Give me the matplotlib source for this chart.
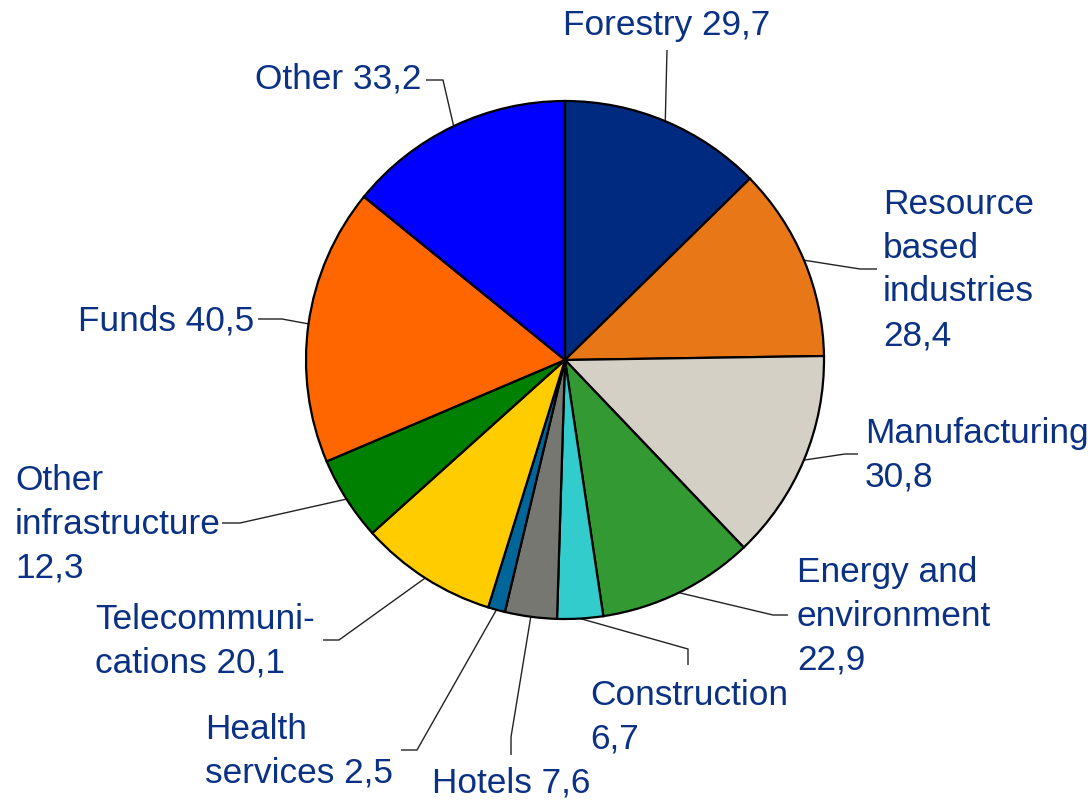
import matplotlib
matplotlib.use("Agg")
import matplotlib.pyplot as plt
import numpy as np

# ---- data ----
names = ["Forestry", "Resource\nbased\nindustries", "Manufacturing", "Energy and\nenvironment",
         "Construction", "Hotels", "Health\nservices", "Telecommuni-\ncations",
         "Other\ninfrastructure", "Funds", "Other"]
values = [29.7, 28.4, 30.8, 22.9, 6.7, 7.6, 2.5, 20.1, 12.3, 40.5, 33.2]
separators = [" ", "\n", "\n", "\n", "\n", " ", " ", " ", "\n", " ", " "]
colors = ["#002A7F", "#E87817", "#D4D0C6", "#339933", "#33CCCC", "#777772",
          "#006699", "#FFCC00", "#008000", "#FF6600", "#0000FF"]

labels = [n + s + f"{v:.1f}".replace(".", ",") for n, s, v in zip(names, separators, values)]

# ---- layout (pixel coordinates, y measured from top) ----
W, H = 1092, 801
cx, cy, R = 565, 360, 259
text_pos = [(563, 26), (883, 270), (865, 455), (797, 616), (590, 717), (432, 783),
            (205, 751), (95, 641), (15, 524), (78, 321), (255, 79)]
leader_pts = [[(667, 50)],
              [(877, 269), (860, 269)],
              [(858, 454), (845, 454)],
              [(788, 615), (773, 615)],
              [(688, 665), (688, 649)],
              [(511, 755), (511, 737)],
              [(401, 750), (417, 750)],
              [(323, 640), (339, 640)],
              [(222, 523), (240, 523)],
              [(258, 319), (282, 319)],
              [(426, 80), (443, 80)]]

text_color = "#0A3184"

fig = plt.figure(figsize=(W / 100, H / 100), dpi=100)
ax = fig.add_axes([0, 0, 1, 1])

wedges, _ = ax.pie(values, colors=colors, startangle=90, counterclock=False,
                   center=(cx, H - cy), radius=R,
                   wedgeprops=dict(edgecolor="black", linewidth=1.6))
ax.set_xlim(0, W)
ax.set_ylim(0, H)
ax.set_aspect("equal")
ax.axis("off")

total = sum(values)
cum = 0.0
for i, v in enumerate(values):
    mid = (cum + v / 2) / total * 2 * np.pi
    cum += v
    ex = cx + R * np.sin(mid)
    ey = cy - R * np.cos(mid)
    pts = leader_pts[i] + [(ex, ey)]
    xs = [p[0] for p in pts]
    ys = [H - p[1] for p in pts]
    ax.plot(xs, ys, color="#222222", linewidth=1.0, solid_capstyle="butt", zorder=0.5)

for lab, (tx, ty) in zip(labels, text_pos):
    ax.text(tx, H - ty, lab, ha="left", va="center", fontsize=25.4, color=text_color,
            family="Liberation Sans", linespacing=1.42)

fig.savefig("out.png", dpi=100)
